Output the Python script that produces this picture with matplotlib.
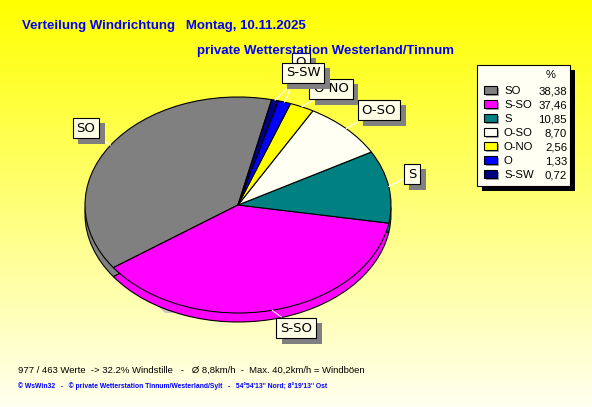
import numpy as np
import matplotlib
matplotlib.use("Agg")
import matplotlib.pyplot as plt
from matplotlib.patches import Rectangle, Ellipse
import matplotlib.patheffects as pe

# ---- data ----
directions = ["SO", "S-SO", "S", "O-SO", "O-NO", "O", "S-SW"]
percent = [38.38, 37.46, 10.85, 8.70, 2.56, 1.33, 0.72]
percent_labels = ["38,38", "37,46", "10,85", "8,70", "2,56", "1,33", "0,72"]
colors = ["#808080", "#ff00ff", "#008080", "#fffff4", "#ffff00", "#0000ff", "#000080"]
title1 = "Verteilung Windrichtung   Montag, 10.11.2025"
title2 = "private Wetterstation Westerland/Tinnum"
footer1 = "977 / 463 Werte  -> 32.2% Windstille   -   Ø 8,8km/h  -  Max. 40,2km/h = Windböen"
footer2 = "© WsWin32   -   © private Wetterstation Tinnum/Westerland/Sylt   -   54°54'13'' Nord; 8°19'13'' Ost"

W, H = 592, 407
fig = plt.figure(figsize=(W / 100, H / 100), dpi=100)

# background gradient
bg = fig.add_axes([0, 0, 1, 1])
bg.set_axis_off()
t = np.linspace(0, 1, 256)[:, None]
top = np.array([1.0, 1.0, 0.0])
bot = np.array([1.0, 1.0, 0.94])
grad = top[None, None, :] * (1 - t[..., None]) + bot[None, None, :] * t[..., None]
grad = np.repeat(grad, 4, axis=1)
bg.imshow(grad, aspect="auto", extent=[0, 1, 0, 1], origin="upper")
bg.set_xlim(0, 1); bg.set_ylim(0, 1)

# pie axes (ellipse)
cx, cy, rx, ry = 238, 205, 153, 108
axp = fig.add_axes([(cx - rx) / W, 1 - (cy + ry) / H, 2 * rx / W, 2 * ry / H])
axp.set_axis_off()
depth = 9 / ry
startangle = 77.3
# shadow
axp.add_patch(Ellipse((-0.05, -0.5), 1.2, 1.42, facecolor="#c8c8c0", edgecolor="none", zorder=0))
# side (lower pie)
axp.pie(percent, colors=colors, startangle=startangle, counterclock=True,
        center=(0, -depth), radius=1,
        wedgeprops=dict(edgecolor="black", linewidth=0.8), normalize=True)
# top pie
wedges, _ = axp.pie(percent, colors=colors, startangle=startangle, counterclock=True,
                    center=(0, 0), radius=1,
                    wedgeprops=dict(edgecolor="black", linewidth=0.8), normalize=True)
axp.set_aspect("auto")
axp.set_xlim(-1, 1)
axp.set_ylim(-1, 1)

# overlay axes in pixel coords
ov = fig.add_axes([0, 0, 1, 1])
ov.set_axis_off()
ov.set_xlim(0, W)
ov.set_ylim(H, 0)
ov.patch.set_alpha(0)

ov.text(22, 29, title1, color="#0000ff", fontsize=9.5, fontweight="bold",
        family="Liberation Sans", va="baseline", ha="left")
ov.text(197, 54, title2, color="#0000ff", fontsize=9.5, fontweight="bold",
        family="Liberation Sans", va="baseline", ha="left")

# slice labels
label_pos = {"SO": (86, 128), "S-SO": (296, 328), "S": (412, 174), "O-SO": (379, 110),
             "O-NO": (331, 89), "O": (301, 63), "S-SW": (303, 73)}
zorders = {"O": 5, "S-SW": 6}
cum = 0
for name, p in zip(directions, percent):
    mid = np.deg2rad(startangle + (cum + p / 2) / 100 * 360)
    cum += p
    x, y = np.cos(mid), np.sin(mid)
    tx, ty = label_pos[name]
    ann = axp.annotate(name, xy=(x, y), xycoords="data", xytext=(tx, ty),
                       textcoords=ov.transData, ha="center", va="center",
                       fontsize=9.5, family="DejaVu Sans", color="black",
                       bbox=dict(boxstyle="square,pad=0.3", facecolor="#ffffe8",
                                 edgecolor="black", linewidth=0.8),
                       arrowprops=dict(arrowstyle="-", color="white", lw=0.8,
                                       shrinkA=0, shrinkB=0),
                       zorder=zorders.get(name, 4), annotation_clip=False)
    ann.get_bbox_patch().set_path_effects([
        pe.SimplePatchShadow(offset=(4, -4), shadow_rgbFace="#808080", alpha=1.0),
        pe.Normal()])

# legend
lx0, ly0, lx1, ly1 = 477, 65, 570, 186
ov.add_patch(Rectangle((lx0 + 5, ly0 + 5), lx1 - lx0, ly1 - ly0, facecolor="black",
                       edgecolor="none", zorder=7))
ov.add_patch(Rectangle((lx0, ly0), lx1 - lx0, ly1 - ly0, facecolor="#fffff4",
                       edgecolor="black", linewidth=0.8, zorder=8))
ov.text(551, 75, "%", fontsize=8, family="Liberation Sans", ha="center", va="center", zorder=9)
for i, (name, lab, c) in enumerate(zip(directions, percent_labels, colors)):
    y = 91 + i * 14
    ov.add_patch(Rectangle((486, y - 3), 13, 8, facecolor="#a0a0a0", edgecolor="none", zorder=9))
    ov.add_patch(Rectangle((484, y - 5), 13, 8, facecolor=c, edgecolor="black",
                           linewidth=0.8, zorder=10))
    ov.text(504, y, name, fontsize=8.2, family="Liberation Sans", ha="left", va="center", zorder=10)
    ov.text(567, y, lab, fontsize=8.2, family="Liberation Sans", ha="right", va="center", zorder=10)

ov.text(18, 373, footer1, fontsize=6.8, family="Liberation Sans", color="black",
        ha="left", va="baseline")
ov.text(18, 388, footer2, fontsize=4.9, family="Liberation Sans", fontweight="bold",
        color="#0000ff", ha="left", va="baseline")

fig.savefig("out.png", dpi=100)
